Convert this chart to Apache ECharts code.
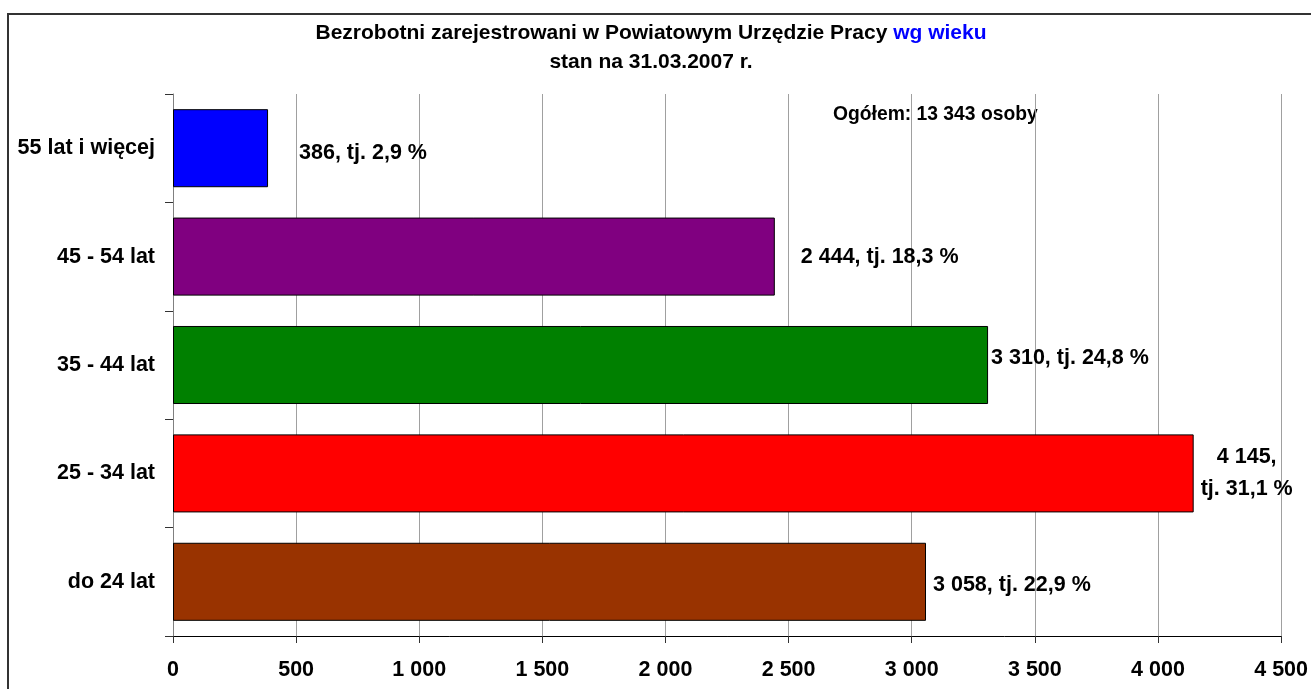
<!DOCTYPE html>
<html>
<head>
<meta charset="utf-8">
<script src="https://cdn.jsdelivr.net/npm/echarts@6/dist/echarts.min.js"></script>
<style>
html,body{margin:0;padding:0;background:#fff;}
#chart{width:1311px;height:689px;}
</style>
</head>
<body>
<div id="chart"></div>
<script>
// Data (bottom to top)
const categories = ['do 24 lat', '25 - 34 lat', '35 - 44 lat', '45 - 54 lat', '55 lat i więcej'];
const values = [3058, 4145, 3310, 2444, 386];
const percents = ['22,9', '31,1', '24,8', '18,3', '2,9'];
const barColors = ['#993300', '#FF0000', '#008000', '#800080', '#0000FF'];
const xTicks = { min: 0, max: 4500, interval: 500 };
const titleLine1 = 'Bezrobotni zarejestrowani w Powiatowym Urzędzie Pracy ';
const titleBlue = 'wg wieku';
const titleLine2 = 'stan na 31.03.2007 r.';
const totalNote = 'Ogółem: 13 343 osoby';

const FONT = '"Liberation Sans", Arial, sans-serif';

function fmt(n) {
  return String(n).replace(/\B(?=(\d{3})+(?!\d))/g, ' ');
}

// label placement tweaks (presentation only)
const labelTweaks = [
  { offset: [7, 3] },
  { offset: [53, 0], align: 'center', wrap: true },
  { offset: [3, -7] },
  { offset: [26, 0] },
  { offset: [31, 5] }
];

const seriesData = values.map((v, i) => {
  const t = labelTweaks[i];
  const txt = t.wrap
    ? fmt(v) + ',\ntj. ' + percents[i] + ' %'
    : fmt(v) + ', tj. ' + percents[i] + ' %';
  return {
    value: v,
    itemStyle: { color: barColors[i] },
    label: {
      formatter: txt,
      offset: t.offset,
      align: t.align || 'left'
    }
  };
});

const chart = echarts.init(document.getElementById('chart'), null, { renderer: 'canvas' });
chart.setOption({
  backgroundColor: '#ffffff',
  animation: false,
  title: [
    {
      text: '{a|' + titleLine1 + '}{b|' + titleBlue + '}',
      left: 646, top: 18, textAlign: 'center',
      textStyle: {
        rich: {
          a: { fontFamily: FONT, fontWeight: 'bold', fontSize: 21, color: '#000' },
          b: { fontFamily: FONT, fontWeight: 'bold', fontSize: 21, color: '#0000FF' }
        }
      }
    },
    {
      text: titleLine2,
      left: 646, top: 47, textAlign: 'center',
      textStyle: { fontFamily: FONT, fontWeight: 'bold', fontSize: 21, color: '#000' }
    }
  ],
  graphic: [
    {
      type: 'rect', silent: true,
      shape: { x: 8, y: 14, width: 1400, height: 800 },
      style: { fill: 'none', stroke: '#333', lineWidth: 2 }
    },
    {
      type: 'text', x: 833, y: 115,
      style: {
        text: totalNote, fontFamily: FONT, fontWeight: 'bold', fontSize: 19.3,
        fill: '#000', textVerticalAlign: 'middle'
      }
    }
  ],
  grid: { left: 173, right: 29, top: 94, bottom: 53, containLabel: false },
  xAxis: {
    type: 'value',
    min: xTicks.min, max: xTicks.max, interval: xTicks.interval,
    axisLine: { show: true, lineStyle: { color: '#000', width: 1 } },
    axisTick: { show: true, length: 7, lineStyle: { color: '#333' } },
    splitLine: { show: true, lineStyle: { color: '#a0a0a0', width: 1 } },
    axisLabel: {
      formatter: v => fmt(v), margin: 23,
      fontFamily: FONT, fontWeight: 'bold', fontSize: 21.5, color: '#000'
    }
  },
  yAxis: {
    type: 'category',
    data: categories,
    axisLine: { show: true, lineStyle: { color: '#808080', width: 1 } },
    axisTick: { show: true, length: 8, lineStyle: { color: '#333' } },
    axisLabel: {
      margin: 18,
      fontFamily: FONT, fontWeight: 'bold', fontSize: 21.5, color: '#000'
    },
    splitLine: { show: false }
  },
  series: [{
    type: 'bar',
    data: seriesData,
    barCategoryGap: '28%',
    itemStyle: { borderColor: '#000', borderWidth: 1 },
    label: {
      show: true, position: 'right', distance: 0,
      verticalAlign: 'middle',
      fontFamily: FONT, fontWeight: 'bold', fontSize: 21.5, color: '#000',
      lineHeight: 32
    }
  }]
});
</script>
</body>
</html>
